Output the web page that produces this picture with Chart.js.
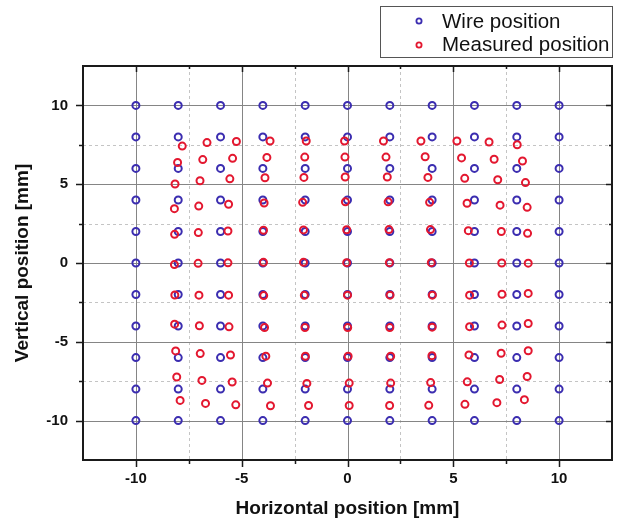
<!DOCTYPE html>
<html>
<head>
<meta charset="utf-8">
<script src="https://cdn.jsdelivr.net/npm/chart.js@4"></script>
<style>
  body { margin: 0; background: #fff; }
  #plot { display: block; }
</style>
</head>
<body>
<canvas id="plot" width="618" height="525"></canvas>
<script>
// wire grid (mm)
const wireX = [-10, -8, -6, -4, -2, 0, 2, 4, 6, 8, 10];
const wireY = [10, 8, 6, 4, 2, 0, -2, -4, -6, -8, -10];

// measured positions, read row by row (top to bottom)
const measRow1X = [-7.81, -6.64, -5.25, -3.66, -1.95, -0.14, 1.70, 3.47, 5.17, 6.69, 8.02];
const measRow1Y = [7.42, 7.64, 7.71, 7.74, 7.74, 7.74, 7.74, 7.74, 7.74, 7.68, 7.50];
const measRow2X = [-8.03, -6.84, -5.43, -3.81, -2.02, -0.12, 1.82, 3.67, 5.39, 6.93, 8.27];
const measRow2Y = [6.38, 6.56, 6.64, 6.70, 6.72, 6.72, 6.72, 6.74, 6.67, 6.58, 6.47];
const measRow3X = [-8.15, -6.97, -5.56, -3.90, -2.06, -0.11, 1.88, 3.80, 5.54, 7.10, 8.41];
const measRow3Y = [5.01, 5.22, 5.34, 5.41, 5.43, 5.46, 5.46, 5.43, 5.37, 5.28, 5.10];
const measRow4X = [-8.18, -7.03, -5.62, -3.94, -2.12, -0.10, 1.92, 3.88, 5.65, 7.21, 8.49];
const measRow4Y = [3.45, 3.61, 3.73, 3.81, 3.85, 3.88, 3.88, 3.85, 3.79, 3.67, 3.53];
const measRow5X = [-8.17, -7.05, -5.65, -3.97, -2.08, -0.04, 1.96, 3.92, 5.71, 7.27, 8.51];
const measRow5Y = [1.82, 1.93, 2.03, 2.08, 2.10, 2.11, 2.12, 2.12, 2.05, 2.00, 1.88];
const measRow6X = [-8.18, -7.06, -5.65, -3.97, -2.08, -0.04, 1.98, 3.96, 5.76, 7.29, 8.54];
const measRow6Y = [-0.10, -0.02, 0.01, 0.04, 0.04, 0.02, 0.02, 0.02, 0.00, 0.00, -0.01];
const measRow7X = [-8.16, -7.02, -5.62, -3.96, -2.04, 0.00, 2.01, 4.01, 5.77, 7.30, 8.54];
const measRow7Y = [-2.03, -2.04, -2.04, -2.07, -2.05, -2.04, -2.04, -2.04, -2.04, -1.98, -1.93];
const measRow8X = [-8.17, -7.00, -5.60, -3.92, -2.01, 0.01, 2.00, 4.00, 5.77, 7.30, 8.54];
const measRow8Y = [-3.88, -3.98, -4.05, -4.09, -4.10, -4.10, -4.10, -4.07, -4.04, -3.94, -3.84];
const measRow9X = [-8.12, -6.96, -5.53, -3.86, -1.99, 0.03, 2.04, 3.99, 5.74, 7.26, 8.54];
const measRow9Y = [-5.58, -5.75, -5.84, -5.91, -5.92, -5.92, -5.92, -5.88, -5.83, -5.73, -5.57];
const measRow10X = [-8.07, -6.88, -5.45, -3.78, -1.92, 0.08, 2.04, 3.93, 5.66, 7.19, 8.49];
const measRow10Y = [-7.23, -7.45, -7.55, -7.62, -7.64, -7.62, -7.62, -7.59, -7.54, -7.39, -7.20];
const measRow11X = [-7.91, -6.71, -5.28, -3.64, -1.84, 0.08, 1.99, 3.84, 5.55, 7.06, 8.36];
const measRow11Y = [-8.72, -8.91, -9.00, -9.06, -9.04, -9.04, -9.04, -9.03, -8.97, -8.86, -8.67];

const xTickLabels = [-10, -5, 0, 5, 10];
const yTickLabels = [-10, -5, 0, 5, 10];
const seriesNames = ['Wire position', 'Measured position'];

const BLUE = '#3b2db0';
const RED = '#e3172f';
const FONT = '"Liberation Sans", Arial, sans-serif';

let wirePts = [];
wireY.forEach(yv => {
  wireX.forEach(xv => wirePts.push({x: xv, y: yv}));
});

const measRows = [
  [measRow1X, measRow1Y], [measRow2X, measRow2Y], [measRow3X, measRow3Y],
  [measRow4X, measRow4Y], [measRow5X, measRow5Y], [measRow6X, measRow6Y],
  [measRow7X, measRow7Y], [measRow8X, measRow8Y], [measRow9X, measRow9Y],
  [measRow10X, measRow10Y], [measRow11X, measRow11Y]
];
let measPts = [];
measRows.forEach(([xs, ys]) => {
  xs.forEach((xv, i) => measPts.push({x: xv, y: ys[i]}));
});

// grid lines, tick marks and frame in the Origin look
const frameGrid = {
  id: 'frameGrid',
  beforeDatasetsDraw(chart) {
    const {ctx, chartArea: a, scales: {x, y}} = chart;
    ctx.save();
    ctx.lineWidth = 1;
    x.ticks.forEach(t => {
      if (Math.abs(t.value) >= 12.5) return;
      const px = Math.round(x.getPixelForValue(t.value)) + 0.5;
      const major = t.value % 5 === 0;
      ctx.strokeStyle = major ? '#858585' : '#c4c4c4';
      ctx.setLineDash(major ? [] : [3, 3]);
      ctx.beginPath(); ctx.moveTo(px, a.top); ctx.lineTo(px, a.bottom); ctx.stroke();
    });
    y.ticks.forEach(t => {
      if (Math.abs(t.value) >= 12.5) return;
      const py = Math.round(y.getPixelForValue(t.value)) + 0.5;
      const major = t.value % 5 === 0;
      ctx.strokeStyle = major ? '#858585' : '#c4c4c4';
      ctx.setLineDash(major ? [] : [3, 3]);
      ctx.beginPath(); ctx.moveTo(a.left, py); ctx.lineTo(a.right, py); ctx.stroke();
    });
    ctx.restore();
  },
  afterDatasetsDraw(chart) {
    const {ctx, chartArea: a, scales: {x, y}} = chart;
    ctx.save();
    ctx.strokeStyle = '#1a1a1a';
    ctx.lineWidth = 1.5;
    x.ticks.forEach(t => {
      if (Math.abs(t.value) >= 12.5) return;
      const px = Math.round(x.getPixelForValue(t.value)) + 0.5;
      const len = t.value % 5 === 0 ? 7 : 4;
      ctx.beginPath();
      ctx.moveTo(px, a.bottom); ctx.lineTo(px, a.bottom + len);
      ctx.moveTo(px, a.top); ctx.lineTo(px, a.top + len - 1);
      ctx.stroke();
    });
    y.ticks.forEach(t => {
      if (Math.abs(t.value) >= 12.5) return;
      const py = Math.round(y.getPixelForValue(t.value)) + 0.5;
      const len = t.value % 5 === 0 ? 7 : 4;
      ctx.beginPath();
      ctx.moveTo(a.left - len, py); ctx.lineTo(a.left, py);
      ctx.moveTo(a.right - len + 1, py); ctx.lineTo(a.right, py);
      ctx.stroke();
    });
    ctx.lineWidth = 2;
    ctx.strokeRect(a.left, a.top, a.right - a.left, a.bottom - a.top);
    ctx.restore();
  },
  afterDraw(chart) {
    const ctx = chart.ctx;
    ctx.save();
    ctx.strokeStyle = '#555';
    ctx.lineWidth = 1;
    ctx.strokeRect(380.5, 6.5, 232, 51);
    const rows = [[21, 28], [45, 51]];
    chart.data.datasets.forEach((ds, i) => {
      ctx.strokeStyle = ds.borderColor;
      ctx.lineWidth = 1.8;
      ctx.beginPath();
      ctx.arc(419, rows[i][0], 2.6, 0, Math.PI * 2);
      ctx.stroke();
      ctx.fillStyle = '#111';
      ctx.font = '20.5px ' + FONT;
      ctx.textBaseline = 'alphabetic';
      ctx.fillText(ds.label, 442, rows[i][1]);
    });
    ctx.restore();
  }
};

let ctx = document.getElementById('plot').getContext('2d');
let myChart = new Chart(ctx, {
  type: 'scatter',
  data: {
    datasets: [{
      label: seriesNames[0],
      data: wirePts,
      borderColor: BLUE,
      backgroundColor: 'rgba(0,0,0,0)',
      borderWidth: 2,
      pointRadius: 3.5,
      order: 2,
    }, {
      label: seriesNames[1],
      data: measPts,
      borderColor: RED,
      backgroundColor: 'rgba(0,0,0,0)',
      borderWidth: 2,
      pointRadius: 3.5,
      order: 1,
    }]
  },
  options: {
    responsive: false,
    animation: false,
    devicePixelRatio: 1,
    layout: { padding: { top: 66, right: 5, left: 0, bottom: 0 } },
    plugins: {
      legend: { display: false },
      tooltip: { enabled: false },
    },
    scales: {
      x: {
        type: 'linear',
        min: -12.5,
        max: 12.5,
        grid: { display: false, tickLength: 7 },
        border: { display: false },
        ticks: {
          stepSize: 2.5,
          autoSkip: false,
          maxRotation: 0,
          padding: 3,
          color: '#111',
          font: { family: FONT, size: 15, weight: 'bold' },
          callback: v => xTickLabels.includes(v) ? String(v) : '',
        },
        title: {
          display: true,
          text: 'Horizontal position [mm]',
          color: '#111',
          font: { family: FONT, size: 19, weight: 'bold' },
          padding: { top: 0, bottom: 5 },
        },
        afterFit: s => { s.height = 65; },
      },
      y: {
        type: 'linear',
        min: -12.5,
        max: 12.5,
        grid: { display: false, tickLength: 7 },
        border: { display: false },
        ticks: {
          stepSize: 2.5,
          autoSkip: false,
          padding: 8,
          color: '#111',
          font: { family: FONT, size: 15, weight: 'bold' },
          callback: v => yTickLabels.includes(v) ? String(v) : '',
        },
        title: {
          display: true,
          text: 'Vertical position [mm]',
          color: '#111',
          font: { family: FONT, size: 19, weight: 'bold' },
          padding: { top: 11, bottom: 0 },
        },
        afterFit: s => { s.width = 83; },
      }
    }
  },
  plugins: [frameGrid]
});
</script>
</body>
</html>
